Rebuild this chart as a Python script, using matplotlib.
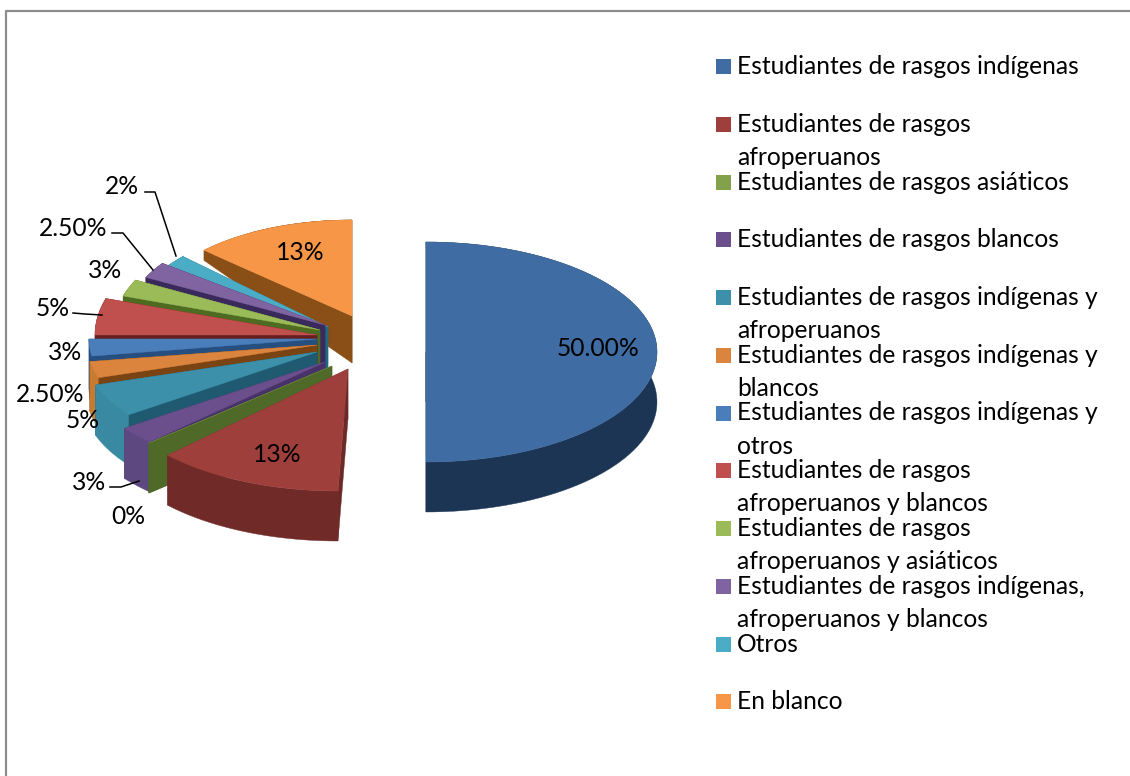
"""Exploded 3D-look pie of student self-identification, drawn with polygons."""
import numpy as np
import matplotlib
matplotlib.use("Agg")  # headless
import matplotlib.pyplot as plt

plt.rcParams["font.family"] = ["Lato", "DejaVu Sans"]

# ----- data -----
CATEGORIES = [
    "Estudiantes de rasgos indígenas",
    "Estudiantes de rasgos\nafroperuanos",
    "Estudiantes de rasgos asiáticos",
    "Estudiantes de rasgos blancos",
    "Estudiantes de rasgos indígenas y\nafroperuanos",
    "Estudiantes de rasgos indígenas y\nblancos",
    "Estudiantes de rasgos indígenas y\notros",
    "Estudiantes de rasgos\nafroperuanos y blancos",
    "Estudiantes de rasgos\nafroperuanos y asiáticos",
    "Estudiantes de rasgos indígenas,\nafroperuanos y blancos",
    "Otros",
    "En blanco",
]
VALUES = [50, 12.5, 0, 2.5, 5, 2.5, 2.5, 5, 2.5, 2.5, 2, 13]
PCT_LABELS = ["50.00%", "13%", "0%", "3%", "5%", "2.50%", "3%", "5%", "3%", "2.50%", "2%", "13%"]

# ----- styles -----
TOP_COLORS = ["#3f6ca3", "#9f3f3c", "#83a04a", "#6b4f8c", "#3d90a9", "#db843d",
              "#4a7ebb", "#c0504d", "#9bbb59", "#8064a2", "#4bacc6", "#f79646"]
WALL_COLORS = ["#1c3555", "#6b2a28", "#4f6a28", "#48326a", "#1f5a70", "#7a4312",
               "#264f80", "#661e1e", "#4e6b22", "#3a2a5c", "#1f6a80", "#8a4f17"]
# outer rim, lit differently from the cut faces
RIM_COLORS = ["#1c3555", "#702b29", "#4f6a28", "#5e4880", "#3a89a3", "#c87a30",
              "#264f80", "#661e1e", "#4e6b22", "#3a2a5c", "#1f6a80", "#8a4f17"]

# per-slice look of the explosion: apex position and radii, in pixels
APEX_X = [426, 348, 332, 325, 317, 317, 317, 317, 320, 325, 328, 352]
APEX_Y = [352, 369, 366, 362, 352, 345, 339, 335, 330, 325, 327, 316]
RAD_X = [231, 245, 259, 248, 233, 230, 228, 222, 207, 201, 199, 203]
RAD_Y = [110, 122, 109, 113, 107, 106, 109, 118, 110, 105, 103, 96]
SKEW_X = [0, 10, 0, 0, 0, 0, 0, 0, 0, 0, 0, 0]

# label centres
LABEL_X = [598, 277, 128, 89, 83, 50, 65, 53, 105, 73, 122, 300]
LABEL_Y = [349, 455, 517, 483, 420, 395, 353, 309, 271, 229, 187, 253]

# leader lines: (xs, ys)
LEADERS = [
    ([145, 155, 176], [192, 192, 256]),
    ([112, 123, 153], [233, 233, 270]),
    ([73, 85, 102], [313, 314, 315]),
    ([110, 121, 139], [487, 487, 481]),
]

LEGEND_X = 716
LEGEND_TOP = 66.5
LEGEND_STEP = 57.75
FONT_SIZE = 17.7


def wall_depth(y):
    # far parts of the pie look thinner than the near ones
    return np.clip(10 + 0.56 * (y - 250), 0, 50)


def slice_points(i, t_start, t_end):
    t = np.radians(np.linspace(t_start, t_end, 80))
    x = APEX_X[i] + RAD_X[i] * np.cos(t) + SKEW_X[i] * np.sin(t)
    y = APEX_Y[i] - RAD_Y[i] * np.sin(t)
    return x, y


def draw_wall(ax, x, y, color):
    xs = np.concatenate([x, x[::-1]])
    ys = np.concatenate([y, (y + wall_depth(y))[::-1]])
    ax.fill(xs, ys, color=color, lw=0.3)


def main() -> None:
    fig = plt.figure(figsize=(11.3, 7.76), dpi=100)
    ax = fig.add_axes([0, 0, 1, 1])
    ax.set_xlim(0, 1130)
    ax.set_ylim(776, 0)
    ax.axis("off")

    # chart frame, cropped on the right and at the bottom
    ax.plot([6, 6, 1130], [776, 11, 11], color="#8c8c8c", lw=1.6)

    # clockwise from 12 o'clock
    sweep = np.array(VALUES) / sum(VALUES) * 360
    ends = 90 - np.cumsum(sweep)
    starts = ends + sweep

    # back slices first so the near ones cover their walls
    for i in reversed(range(len(VALUES))):
        x, y = slice_points(i, starts[i], ends[i])
        ax_, ay_ = float(APEX_X[i]), float(APEX_Y[i])
        draw_wall(ax, np.array([ax_, x[0]]), np.array([ay_, y[0]]), WALL_COLORS[i])
        draw_wall(ax, np.array([ax_, x[-1]]), np.array([ay_, y[-1]]), WALL_COLORS[i])
        draw_wall(ax, x, y, RIM_COLORS[i])
        ax.fill(np.r_[ax_, x], np.r_[ay_, y], color=TOP_COLORS[i], lw=0.3)

    for xs, ys in LEADERS:
        ax.plot(xs, ys, color="black", lw=1.1)

    for lab, lx, ly in zip(PCT_LABELS, LABEL_X, LABEL_Y):
        ax.text(lx, ly, lab, ha="center", va="center", fontsize=FONT_SIZE, color="black")

    # legend, one entry per step; wrapped names run into the next entry
    for i, name in enumerate(CATEGORIES):
        yc = LEGEND_TOP + i * LEGEND_STEP
        ax.add_patch(plt.Rectangle((LEGEND_X, yc - 7.5), 15, 15, color=TOP_COLORS[i], lw=0))
        for k, line in enumerate(name.split("\n")):
            ax.text(LEGEND_X + 21, yc + k * 33, line, ha="left", va="center",
                    fontsize=FONT_SIZE, color="black")

    fig.savefig("out.png", dpi=100)
    plt.close(fig)


if __name__ == "__main__":
    main()
